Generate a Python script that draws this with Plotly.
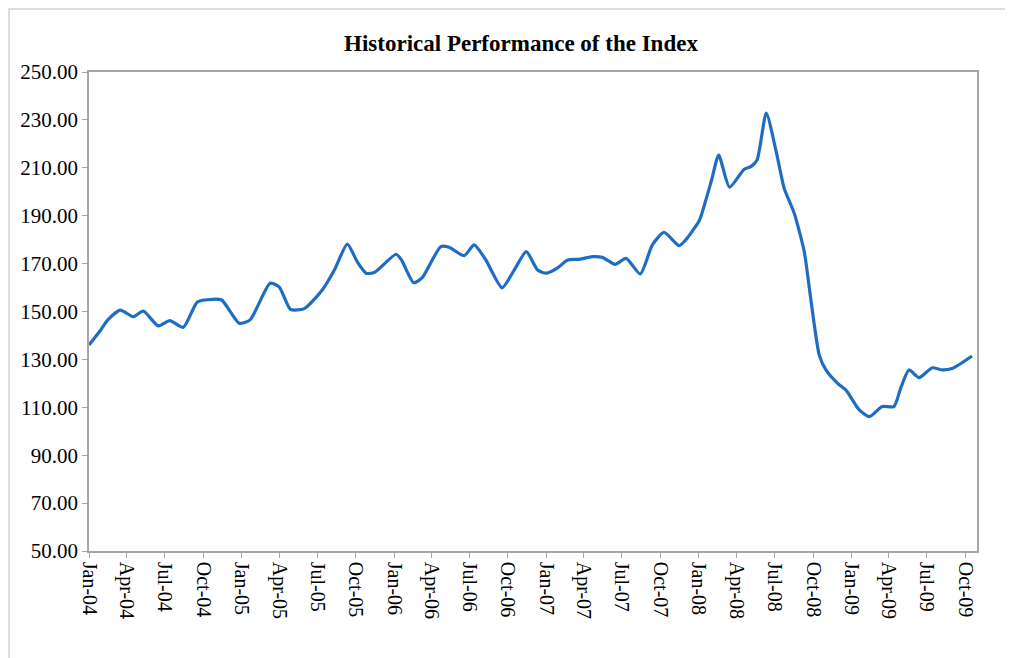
import plotly.graph_objects as go

# ---- data ----
dates = [
    "2004-01-01", "2004-01-29", "2004-02-15", "2004-03-16", "2004-04-16", "2004-05-10",
    "2004-06-15", "2004-07-13", "2004-08-14", "2004-09-17", "2004-10-23", "2004-11-14",
    "2004-12-26", "2005-01-21", "2005-03-10", "2005-04-01", "2005-04-28", "2005-05-31",
    "2005-07-13", "2005-08-11", "2005-09-11", "2005-10-05", "2005-10-26", "2005-11-15",
    "2006-01-06", "2006-01-19", "2006-02-17", "2006-03-09", "2006-04-23", "2006-05-13",
    "2006-06-18", "2006-07-12", "2006-08-09", "2006-09-17", "2006-10-16", "2006-11-14",
    "2006-12-11", "2007-01-01", "2007-01-28", "2007-02-21", "2007-03-21", "2007-04-21",
    "2007-05-15", "2007-06-15", "2007-07-11", "2007-08-14", "2007-09-12", "2007-10-10",
    "2007-11-15", "2007-12-01", "2008-01-02", "2008-01-09", "2008-02-01", "2008-02-18",
    "2008-03-15", "2008-04-19", "2008-05-05", "2008-05-20", "2008-06-11", "2008-07-04",
    "2008-07-24", "2008-08-17", "2008-09-10", "2008-09-26", "2008-10-16", "2008-11-01",
    "2008-11-29", "2008-12-19", "2009-01-20", "2009-02-13", "2009-03-16", "2009-04-13",
    "2009-04-29", "2009-05-19", "2009-06-12", "2009-07-14", "2009-08-07", "2009-09-01",
    "2009-10-17",
]
index_values = [
    136.0, 142.3, 146.5, 150.6, 147.8, 150.2,
    144.0, 146.2, 143.4, 154.0, 155.1, 154.8,
    145.1, 146.5, 161.8, 160.2, 150.9, 151.2,
    159.0, 167.3, 178.1, 170.7, 166.0, 166.3,
    173.9, 171.5, 162.0, 164.0, 177.1, 176.8,
    173.3, 177.8, 171.5, 159.9, 167.3, 175.0,
    167.3, 166.0, 168.2, 171.5, 171.8, 172.9,
    172.6, 169.7, 172.2, 165.7, 177.8, 183.1,
    177.5, 179.9, 187.8, 191.1, 204.9, 215.3,
    201.9, 209.4, 210.5, 213.3, 232.8, 217.4,
    201.4, 191.0, 175.0, 154.8, 131.8, 125.6,
    120.0, 117.2, 108.9, 106.1, 110.3, 110.3,
    117.9, 125.6, 122.4, 126.5, 125.6, 126.3,
    131.4,
]
tick_dates = [
    "2004-01-01", "2004-04-01", "2004-07-01", "2004-10-01",
    "2005-01-01", "2005-04-01", "2005-07-01", "2005-10-01",
    "2006-01-01", "2006-04-01", "2006-07-01", "2006-10-01",
    "2007-01-01", "2007-04-01", "2007-07-01", "2007-10-01",
    "2008-01-01", "2008-04-01", "2008-07-01", "2008-10-01",
    "2009-01-01", "2009-04-01", "2009-07-01", "2009-10-01",
]
tick_labels = [
    "Jan-04", "Apr-04", "Jul-04", "Oct-04",
    "Jan-05", "Apr-05", "Jul-05", "Oct-05",
    "Jan-06", "Apr-06", "Jul-06", "Oct-06",
    "Jan-07", "Apr-07", "Jul-07", "Oct-07",
    "Jan-08", "Apr-08", "Jul-08", "Oct-08",
    "Jan-09", "Apr-09", "Jul-09", "Oct-09",
]
y_ticks = [50, 70, 90, 110, 130, 150, 170, 190, 210, 230, 250]

SERIF = "Liberation Serif, Times New Roman, serif"
AXIS_GREY = "#a6a6a6"

# the page places the figure 8px in from the top-left corner
OFF = 8
W, H = 1013, 658
PL, PR, PT, PB = 89 - OFF, 977 - OFF, 72 - OFF, 551 - OFF   # plot box in figure px
PW, PH = PR - PL, PB - PT

fig = go.Figure()
fig.add_trace(go.Scatter(
    x=dates, y=index_values, mode="lines",
    line=dict(color="#1f6dc2", width=3.2, shape="spline", smoothing=0.6),
    hoverinfo="x+y", showlegend=False,
))

fig.update_layout(
    width=W, height=H,
    margin=dict(l=PL, r=W - PR, t=PT, b=H - PB, autoexpand=False),
    paper_bgcolor="white", plot_bgcolor="white",
    title=dict(
        text="<b>Historical Performance of the Index</b>",
        font=dict(family=SERIF, size=23, color="black"),
        x=(521 - OFF) / W, xanchor="center", xref="container",
        y=1 - (43 - OFF) / H, yanchor="middle", yref="container",
    ),
    xaxis=dict(
        type="date",
        range=["2004-01-01", "2009-10-29"],
        tickmode="array", tickvals=tick_dates, ticktext=tick_labels,
        tickangle=90,
        tickfont=dict(family=SERIF, size=20, color="black"),
        ticks="outside", ticklen=5, tickcolor=AXIS_GREY,
        showline=True, linecolor=AXIS_GREY, linewidth=1.5, mirror=True,
        showgrid=False, zeroline=False, automargin=False,
    ),
    yaxis=dict(
        range=[50, 250],
        tickmode="array", tickvals=y_ticks,
        tickformat=".2f",
        tickfont=dict(family=SERIF, size=21, color="black"),
        ticks="outside", ticklen=5, tickcolor=AXIS_GREY,
        showline=True, linecolor=AXIS_GREY, linewidth=1.5, mirror=True,
        showgrid=False, zeroline=False, automargin=False,
    ),
    shapes=[dict(
        type="rect", xref="paper", yref="paper",
        x0=(1 - PL) / PW, x1=(W + 20 - PL) / PW,
        y0=(PB - (H + 20)) / PH, y1=(PB - 1) / PH,
        line=dict(color="#d4d4d4", width=1.5), fillcolor="rgba(0,0,0,0)",
        layer="below",
    )],
)

fig.write_html("out.html")
